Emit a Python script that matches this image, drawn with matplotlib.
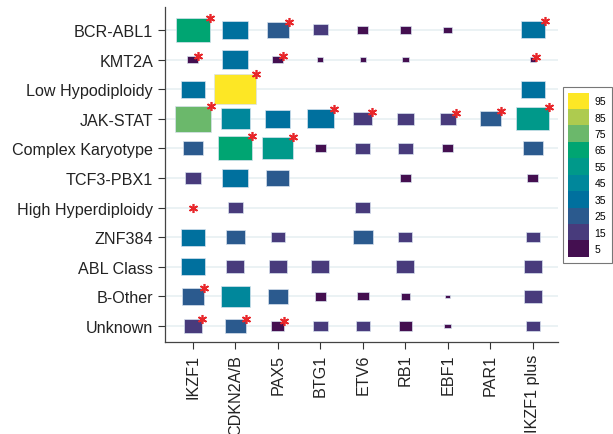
import numpy as np
import matplotlib
matplotlib.use('Agg')
import matplotlib.pyplot as plt
from matplotlib.path import Path
from matplotlib.patches import Patch
from matplotlib.transforms import ScaledTranslation

plt.rcParams['font.family'] = ['Liberation Sans', 'DejaVu Sans']

# rows (subtypes) and columns (genes)
subtypes = ['BCR-ABL1', 'KMT2A', 'Low Hypodiploidy', 'JAK-STAT', 'Complex Karyotype',
            'TCF3-PBX1', 'High Hyperdiploidy', 'ZNF384', 'ABL Class', 'B-Other', 'Unknown']
genes = ['IKZF1', 'CDKN2A/B', 'PAX5', 'BTG1', 'ETV6', 'RB1', 'EBF1', 'PAR1', 'IKZF1 plus']

# percentage per gene, one list per subtype (None = not present)
bcr_abl1 = [62, 36, 26, 13, 6.5, 6.5, 4.4, None, 31]
kmt2a = [6.5, 36, 6.5, 2, 2.4, 2.4, None, None, 2.2]
low_hypo = [31, 95, None, None, None, None, None, None, 31]
jak_stat = [73, 46, 34, 39, 19, 15.5, 14, 24, 57]
complex_k = [21, 62, 52, 6.5, 12, 13, 6.5, None, 21]
tcf3_pbx1 = [14, 36, 28, None, None, 6.5, None, None, 7]
high_hyper = [None, 11, None, None, 12, None, None, None, None]
znf384 = [31, 21, 11, None, 21, 11, None, None, 11]
abl_class = [31, 17.5, 17.5, 17, None, 17.5, None, None, 17]
b_other = [28, 44, 22, 7.3, 7, 4.4, 1.5, None, 17.5]
unknown = [19, 23, 9, 11.6, 11.6, 9, 2.4, None, 11]
values = [bcr_abl1, kmt2a, low_hypo, jak_stat, complex_k, tcf3_pbx1,
          high_hyper, znf384, abl_class, b_other, unknown]

# significant cells (row, col)
stars = [(0, 0), (0, 2), (0, 8), (1, 0), (1, 2), (1, 8), (2, 1),
         (3, 0), (3, 3), (3, 4), (3, 6), (3, 7), (3, 8),
         (4, 1), (4, 2), (6, 0), (9, 0), (10, 0), (10, 1), (10, 2)]

legend_labels = ['95', '85', '75', '65', '55', '45', '35', '25', '15', '5']
bin_colors = ['#440f50', '#483b7c', '#2b5a8e', '#00709e', '#00879b',
              '#00998a', '#00a572', '#6bb86b', '#aecb4f', '#fde725']

aspect = 1.4
rect = Path([(-1, -1 / aspect), (1, -1 / aspect), (1, 1 / aspect), (-1, 1 / aspect), (-1, -1 / aspect)],
            [Path.MOVETO, Path.LINETO, Path.LINETO, Path.LINETO, Path.CLOSEPOLY])
scale = 9.63  # points^2 per percent

fig = plt.figure(figsize=(6.13, 4.35), dpi=100)
ax = fig.add_axes([0.269, 0.2115, 0.641, 0.7705])

xs, ys, ss, cs = [], [], [], []
for i, row in enumerate(values):
    for j, v in enumerate(row):
        if v is None:
            continue
        xs.append(j)
        ys.append(i)
        ss.append(v * scale)
        cs.append(bin_colors[min(int(v // 10), 9)])

for i in range(len(subtypes)):
    ax.axhline(i, color='#e8f0f2', lw=1.2, zorder=0)

ax.scatter(xs, ys, s=ss, c=cs, marker=rect, edgecolors='#d8e2ee', linewidths=0.5, zorder=2)

# red asterisks at upper-right corner of each cell
for (i, j) in stars:
    v = values[i][j]
    if v is None:
        dx, dy = 0, 0
    else:
        w = np.sqrt(v * scale)
        dx, dy = w / 2, w / 2 / aspect
    tr = ax.transData + ScaledTranslation(dx / 72, dy / 72, fig.dpi_scale_trans)
    ax.plot(j, i, marker=(6, 2, 0), ms=6.5, mew=1.2, color='#e8262a', transform=tr, zorder=3)

ax.set_xlim(-0.66, 8.59)
ax.set_ylim(10.54, -0.78)
ax.set_xticks(range(len(genes)))
ax.set_xticklabels(genes, rotation=90, fontsize=11.6)
ax.set_yticks(range(len(subtypes)))
ax.set_yticklabels(subtypes, fontsize=11.6)
ax.tick_params(colors='#333333', labelcolor='#222222', length=5, width=0.8)
for sp in ['top', 'right']:
    ax.spines[sp].set_visible(False)
for sp in ['left', 'bottom']:
    ax.spines[sp].set_color('#444444')
    ax.spines[sp].set_linewidth(0.9)

handles = [Patch(facecolor=c, edgecolor='none') for c in bin_colors[::-1]]
leg = fig.legend(handles, legend_labels, loc='upper left', bbox_to_anchor=(0.918, 0.798),
                 fontsize=7.5, handlelength=2.0, handleheight=2.05, labelspacing=0,
                 handletextpad=0.5, borderpad=0.55, borderaxespad=0, fancybox=False, frameon=True)
leg.get_frame().set_edgecolor('#555555')
leg.get_frame().set_linewidth(0.8)

fig.savefig('out.png', dpi=100)
